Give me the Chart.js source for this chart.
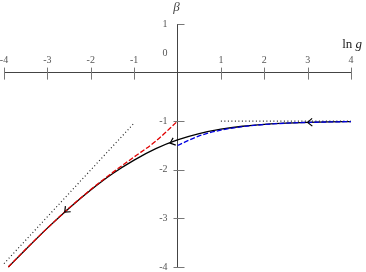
<!DOCTYPE html>
<html lang="en">
<head>
<meta charset="UTF-8">
<title>beta function</title>
<script src="https://cdn.jsdelivr.net/npm/chart.js@4.4.1/dist/chart.umd.min.js"></script>
<style>
  body { margin: 0; padding: 0; background: #fff; }
  .chart-box { width: 366px; height: 272px; }
</style>
</head>
<body>
<div class="chart-box"><canvas id="betaChart" width="366" height="272"></canvas></div>
<script>
  // full beta curve
  const lnG = [-3.9, -3.5, -3, -2.5, -2, -1.5, -1, -0.5, 0, 0.5, 1, 1.5, 2, 2.5, 3, 3.5, 4];
  const betaFull = [-4.0, -3.64, -3.2, -2.79, -2.415, -2.08, -1.80, -1.565, -1.386, -1.256, -1.165, -1.104, -1.065, -1.04, -1.025, -1.015, -1.009];

  // small g branch (red dashed)
  const lnGSmall = [-3.9, -3.5, -3, -2.5, -2, -1.5, -1, -0.5, 0];
  const betaSmall = [-4.0, -3.636, -3.2, -2.787, -2.406, -2.058, -1.736, -1.41, -1.0];

  // large g branch (blue dashed)
  const lnGLarge = [0, 0.5, 1, 1.5, 2, 2.5, 3, 3.5, 4];
  const betaLarge = [-1.5, -1.303, -1.184, -1.112, -1.068, -1.041, -1.025, -1.015, -1.009];

  // dotted guide lines
  const lnGDiag = [-4, -1];
  const betaDiag = [-3.93, -1.04];
  const lnGFlat = [1, 4];
  const betaFlat = [-1, -1];

  // flow arrows on the curve
  const arrowLnG = [-2.6, -0.17, 3.0];
  const arrowBeta = [-2.87, -1.45, -1.025];

  const xTicks = [-4, -3, -2, -1, 0, 1, 2, 3, 4];
  const yTicks = [1, 0, -1, -2, -3, -4];

  const pts = (xs, ys) => xs.map((v, i) => ({ x: v, y: ys[i] }));

  function betaAt(v) {
    for (let i = 1; i < lnG.length; i++) {
      if (v <= lnG[i]) {
        const t = (v - lnG[i - 1]) / (lnG[i] - lnG[i - 1]);
        return betaFull[i - 1] + t * (betaFull[i] - betaFull[i - 1]);
      }
    }
    return betaFull[betaFull.length - 1];
  }

  const serif = '"Liberation Serif", "DejaVu Serif", serif';

  const axisDecor = {
    id: 'axisDecor',
    beforeDatasetsDraw(chart) {
      const { ctx, scales: { x, y } } = chart;
      const x0 = x.getPixelForValue(0);
      const y0 = y.getPixelForValue(0);
      ctx.save();
      ctx.strokeStyle = '#777';
      ctx.lineWidth = 1;
      ctx.beginPath();
      xTicks.forEach(v => {
        if (v === 0) return;
        const px = Math.round(x.getPixelForValue(v)) + 0.5;
        ctx.moveTo(px, y0 - 5);
        ctx.lineTo(px, y0 + 7);
      });
      yTicks.forEach(v => {
        if (v === 0) return;
        const py = Math.round(y.getPixelForValue(v)) + 0.5;
        ctx.moveTo(v === y.max ? x0 : x0 - 4, py);
        ctx.lineTo(x0 + 7, py);
      });
      ctx.stroke();
      ctx.restore();
    },
    afterDatasetsDraw(chart) {
      const { ctx, scales: { x, y }, chartArea } = chart;
      ctx.save();
      // chevrons pointing towards smaller g
      ctx.strokeStyle = '#000';
      ctx.lineWidth = 1.2;
      arrowLnG.forEach((v, i) => {
        const px = x.getPixelForValue(v);
        const py = y.getPixelForValue(arrowBeta[i]);
        const qx = x.getPixelForValue(v - 0.1);
        const qy = y.getPixelForValue(betaAt(v - 0.1));
        const a = Math.atan2(qy - py, qx - px);
        const len = 6, spread = 0.7;
        ctx.beginPath();
        ctx.moveTo(px - len * Math.cos(a - spread), py - len * Math.sin(a - spread));
        ctx.lineTo(px, py);
        ctx.lineTo(px - len * Math.cos(a + spread), py - len * Math.sin(a + spread));
        ctx.stroke();
      });
      // axis names
      ctx.fillStyle = '#444';
      ctx.textBaseline = 'alphabetic';
      ctx.textAlign = 'center';
      ctx.font = 'italic 13px ' + serif;
      ctx.fillText('β', x.getPixelForValue(0) - 1, chartArea.top - 13);
      const y0 = y.getPixelForValue(0);
      ctx.fillStyle = '#222';
      ctx.textAlign = 'left';
      ctx.font = '13px ' + serif;
      const lnW = ctx.measureText('ln ').width;
      ctx.font = 'italic 13px ' + serif;
      const gW = ctx.measureText('g').width;
      const start = chartArea.right + 11 - lnW - gW;
      ctx.font = '13px ' + serif;
      ctx.fillText('ln ', start, y0 - 25);
      ctx.font = 'italic 13px ' + serif;
      ctx.fillText('g', start + lnW, y0 - 25);
      ctx.restore();
    }
  };

  const lineBase = { showLine: true, pointRadius: 0, borderWidth: 1.3, fill: false, clip: false };

  new Chart(document.getElementById('betaChart'), {
    type: 'scatter',
    data: {
      datasets: [
        { ...lineBase, order: 3, label: 'beta', data: pts(lnG, betaFull), borderColor: '#000', cubicInterpolationMode: 'monotone' },
        { ...lineBase, order: 1, label: 'small g', data: pts(lnGSmall, betaSmall), borderColor: '#e00000', borderDash: [5, 2], cubicInterpolationMode: 'monotone' },
        { ...lineBase, order: 1, label: 'large g', data: pts(lnGLarge, betaLarge), borderColor: '#0000e0', borderDash: [5, 2], cubicInterpolationMode: 'monotone' },
        { ...lineBase, order: 2, label: 'ln g', data: pts(lnGDiag, betaDiag), borderColor: '#222', borderWidth: 1.2, borderDash: [1, 2.5] },
        { ...lineBase, order: 2, label: '-1', data: pts(lnGFlat, betaFlat), borderColor: '#222', borderWidth: 1.2, borderDash: [1, 2.5] }
      ]
    },
    options: {
      responsive: false,
      animation: false,
      devicePixelRatio: 1,
      layout: { padding: { left: 4, right: 15, top: 24, bottom: 5 } },
      plugins: { legend: { display: false }, tooltip: { enabled: false } },
      scales: {
        x: {
          type: 'linear', min: -4, max: 4,
          position: { y: 0 },
          afterBuildTicks: s => { s.ticks = xTicks.map(v => ({ value: v })); },
          grid: { drawOnChartArea: false, drawTicks: false },
          border: { color: '#444', width: 1 },
          ticks: {
            padding: -18, autoSkip: false, maxRotation: 0,
            color: '#555', font: { family: serif, size: 10 },
            callback: v => v === 0 ? '' : String(v)
          }
        },
        y: {
          type: 'linear', min: -4, max: 1,
          position: { x: 0 },
          afterBuildTicks: s => { s.ticks = yTicks.map(v => ({ value: v })); },
          grid: { drawOnChartArea: false, drawTicks: false },
          border: { color: '#444', width: 1 },
          ticks: {
            autoSkip: false, padding: 0,
            color: '#555',
            font: c => ({ family: serif, size: 10, lineHeight: c.tick && c.tick.value === 0 ? 1.3 : 1 }),
            callback: v => v === 0 ? ['0    ', '', '', ''] : String(v) + '    '
          }
        }
      }
    },
    plugins: [axisDecor]
  });
</script>
</body>
</html>
